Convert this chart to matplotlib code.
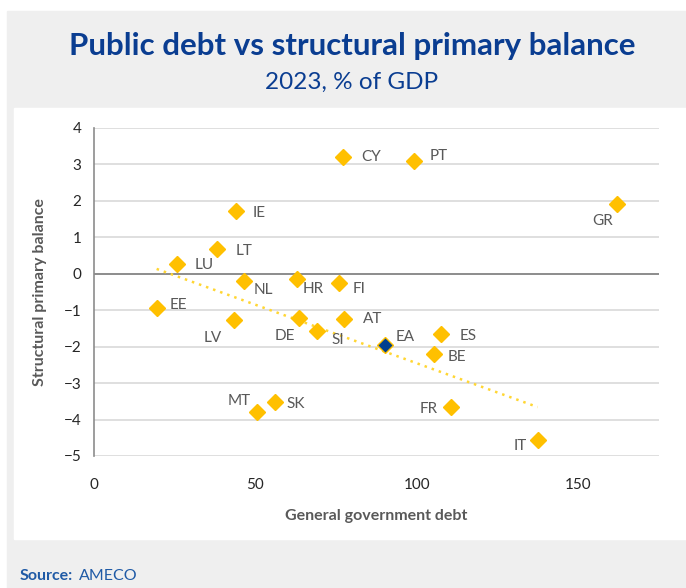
import numpy as np
import matplotlib.pyplot as plt
from matplotlib.patches import Rectangle

# country data: debt (% GDP) and structural primary balance
codes   = ['CY', 'PT', 'GR', 'IE', 'LT', 'LU', 'NL', 'HR', 'FI', 'EE', 'LV',
           'DE', 'SI', 'AT', 'ES', 'BE', 'FR', 'IT', 'MT', 'SK']
debt    = [77.0, 99.0, 162.0, 43.9, 38.2, 25.7, 46.4, 62.8, 75.8, 19.4, 43.3,
           63.6, 69.0, 77.4, 107.5, 105.3, 110.5, 137.4, 50.4, 56.0]
balance = [3.20, 3.10, 1.92, 1.71, 0.69, 0.26, -0.21, -0.15, -0.25, -0.93, -1.26,
           -1.21, -1.57, -1.24, -1.64, -2.20, -3.66, -4.55, -3.79, -3.52]
ea_debt, ea_bal = 90.2, -1.95
# the big surplus countries are left out of the trend
in_trend = [c not in ('GR', 'CY', 'PT') for c in codes]

xticks = [0, 50, 100, 150]
yticks = [4, 3, 2, 1, 0, -1, -2, -3, -4, -5]

# label offsets in pixels (dx, dy, ha)
offs = {'CY': (19, 0, 'left'), 'PT': (16, 5, 'left'), 'GR': (-14, -17, 'center'),
        'IE': (17, -2, 'left'), 'LT': (18, -2, 'left'), 'LU': (18, -1, 'left'),
        'NL': (10, -9, 'left'), 'HR': (6, -10, 'left'), 'FI': (14, -6, 'left'),
        'EE': (13, 3, 'left'), 'LV': (-21, -18, 'center'), 'DE': (-15, -18, 'center'),
        'SI': (21, -9, 'center'), 'AT': (19, 0, 'left'), 'ES': (19, -2, 'left'),
        'BE': (14, -3, 'left'), 'FR': (-13, -2, 'right'), 'IT': (-11, -6, 'right'),
        'MT': (-6, 11, 'right'), 'SK': (12, -2, 'left'), 'EA': (10, 8, 'left')}

plt.rcParams['font.family'] = ['Lato', 'DejaVu Sans']

fig = plt.figure(figsize=(6.86, 5.88), dpi=100)
W, H = 686, 588
fig.patches.append(Rectangle((7/W, 0), 1, 1 - 11/H, transform=fig.transFigure,
                             color='#efefef', zorder=-2))
fig.patches.append(Rectangle((14/W, 49/H), 1, (539-108)/H, transform=fig.transFigure,
                             color='white', zorder=-1))

fig.text(352/W, 1 - 46/H, 'Public debt vs structural primary balance', ha='center',
         va='center', fontsize=22.5, fontweight='bold', color='#0a3d91')
fig.text(352/W, 1 - 82/H, '2023, % of GDP', ha='center', va='center',
         fontsize=17.5, color='#0a3d91')
fig.text(20/W, 1 - 576/H, 'Source:', ha='left', va='center', fontsize=11.5,
         fontweight='bold', color='#1f5aa6')
fig.text(79/W, 1 - 576/H, 'AMECO', ha='left', va='center', fontsize=11.5,
         color='#1f5aa6')

ax = fig.add_axes([94/W, 1 - 456/H, (659-94)/W, (456-128)/H])
ax.set_facecolor('none')
ax.set_xlim(0, 175)
ax.set_ylim(-5, 4)
ax.set_xticks(xticks)
ax.set_yticks(yticks)
ax.tick_params(length=0, labelsize=11, colors='#262626', pad=9)
ax.tick_params(axis='x', pad=16)
for y in yticks:
  ax.axhline(y, color='#d9d9d9', lw=1.2, zorder=0)
ax.axhline(0, color='#808080', lw=1.2, zorder=0.5)
for s in ['top', 'right', 'bottom']:
  ax.spines[s].set_visible(False)
ax.spines['left'].set_color('#8c8c8c')
ax.spines['left'].set_linewidth(1.2)

# linear trend on the countries
tdx = np.array(debt)[in_trend]
tdy = np.array(balance)[in_trend]
k, b = np.polyfit(tdx, tdy, 1)
tx = np.array([tdx.min(), tdx.max()])
ax.plot(tx, k*tx + b, ls=(0, (1, 2)), color='#ffd633', lw=1.8, zorder=1)

ax.plot(debt, balance, 'D', ms=8.5, color='#ffc000', mec='#ffc000', zorder=3, ls='none')
ax.plot([ea_debt], [ea_bal], 'D', ms=8.5, color='#003f8f', mec='#ffc000', mew=1, zorder=4)

for c, x, y in zip(codes + ['EA'], debt + [ea_debt], balance + [ea_bal]):
  dx, dy, ha = offs[c]
  ax.annotate(c, (x, y), xytext=(dx, dy), textcoords='offset pixels', ha=ha,
              va='center', fontsize=11, color='#595959', zorder=5)

ax.set_xlabel('General government debt', fontsize=11.5, fontweight='bold',
              color='#595959', labelpad=12)
ax.set_ylabel('Structural primary balance', fontsize=11.5, fontweight='bold',
              color='#595959', labelpad=12)

fig.savefig('out.png', dpi=100)
